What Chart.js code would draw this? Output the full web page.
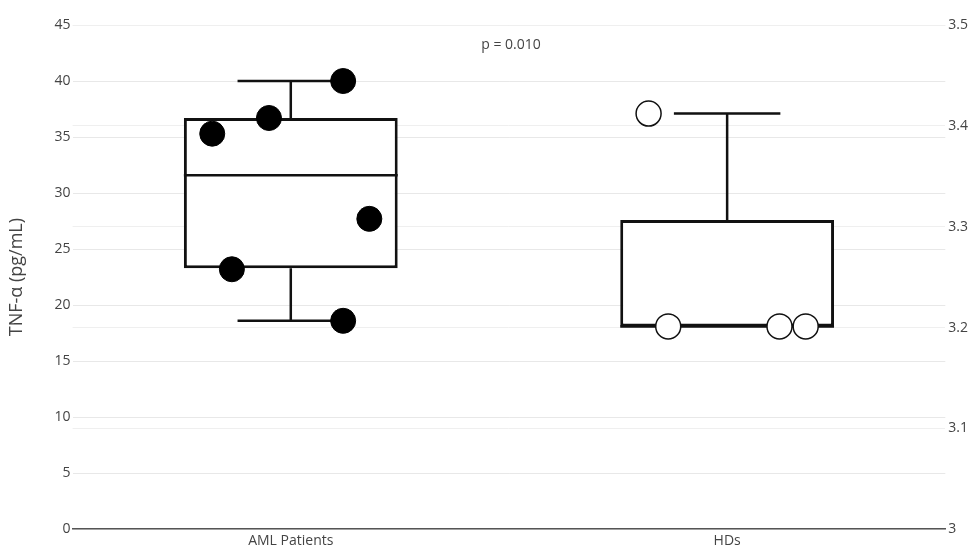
<!DOCTYPE html>
<html>
<head>
<meta charset="utf-8">
<script src="https://cdn.jsdelivr.net/npm/chart.js@4/dist/chart.umd.min.js"></script>
<style>
  body { margin: 0; background: #fff; }
  #wrap { width: 973px; height: 548px; }
</style>
</head>
<body>
<div id="wrap"><canvas id="chart" width="973" height="548"></canvas></div>
<script>
// Chart data
const categories = ['AML Patients', 'HDs'];

// individual measurements (pg/mL) and their horizontal jitter within the category
const amlValues = [40.0, 36.7, 35.3, 27.7, 23.2, 18.6];
const amlJitter = [0.12, -0.05, -0.18, 0.18, -0.135, 0.12];
const hdValues = [37.1, 18.1, 18.1, 18.1];
const hdJitter = [-0.18, -0.135, 0.12, 0.18];

// box plot statistics per category
const boxQ1 = [23.3, 18.1];
const boxMedian = [31.6, 18.1];
const boxQ3 = [36.7, 27.6];
const whiskerLow = [18.6, 18.1];
const whiskerHigh = [40.0, 37.1];

const leftTicks = { min: 0, max: 45, step: 5 };
const rightTicks = { min: 3, max: 3.5, step: 0.1 };
const pValueText = 'p = 0.010';

const axisColor = '#444';
const fontFamily = "'Open Sans', sans-serif";

// Whiskers and median lines drawn right after the boxes
const whiskerPlugin = {
    id: 'whiskers',
    afterDatasetDraw(chart, args) {
        if (args.meta.type !== 'bar') return;
        const ctx = chart.ctx;
        const x = chart.scales.x;
        const y = chart.scales.y;
        const capHalf = (x.getPixelForValue(0.122) - x.getPixelForValue(0));
        ctx.save();
        ctx.strokeStyle = '#111';
        ctx.lineWidth = 2.5;
        categories.forEach((c, i) => {
            const cx = x.getPixelForValue(i);
            const bar = args.meta.data[i];
            const half = bar.width / 2;
            ctx.beginPath();
            // median
            ctx.moveTo(cx - half, y.getPixelForValue(boxMedian[i]));
            ctx.lineTo(cx + half, y.getPixelForValue(boxMedian[i]));
            // upper whisker
            if (whiskerHigh[i] > boxQ3[i]) {
                ctx.moveTo(cx, y.getPixelForValue(boxQ3[i]));
                ctx.lineTo(cx, y.getPixelForValue(whiskerHigh[i]));
                ctx.moveTo(cx - capHalf, y.getPixelForValue(whiskerHigh[i]));
                ctx.lineTo(cx + capHalf, y.getPixelForValue(whiskerHigh[i]));
            }
            // lower whisker
            if (whiskerLow[i] < boxQ1[i]) {
                ctx.moveTo(cx, y.getPixelForValue(boxQ1[i]));
                ctx.lineTo(cx, y.getPixelForValue(whiskerLow[i]));
                ctx.moveTo(cx - capHalf, y.getPixelForValue(whiskerLow[i]));
                ctx.lineTo(cx + capHalf, y.getPixelForValue(whiskerLow[i]));
            }
            ctx.stroke();
        });
        ctx.restore();
    }
};

// p value annotation
const pValuePlugin = {
    id: 'pValue',
    afterDraw(chart) {
        const ctx = chart.ctx;
        const area = chart.chartArea;
        ctx.save();
        ctx.fillStyle = axisColor;
        ctx.font = '14px ' + fontFamily;
        ctx.textAlign = 'center';
        ctx.textBaseline = 'middle';
        ctx.fillText(pValueText, (area.left + area.right) / 2 + 2, chart.scales.y.getPixelForValue(43.2));
        ctx.restore();
    }
};

new Chart(document.getElementById('chart'), {
    type: 'bar',
    data: {
        datasets: [
            {
                type: 'scatter',
                label: categories[0],
                data: amlValues.map((v, i) => ({ x: 0 + amlJitter[i], y: v })),
                pointRadius: 12.5,
                pointBackgroundColor: '#000',
                pointBorderColor: '#000',
                order: 0
            },
            {
                type: 'scatter',
                label: categories[1],
                data: hdValues.map((v, i) => ({ x: 1 + hdJitter[i], y: v })),
                pointRadius: 12.5,
                pointBackgroundColor: '#fff',
                pointBorderColor: '#111',
                pointBorderWidth: 1.5,
                order: 0
            },
            {
                type: 'bar',
                label: 'box',
                data: categories.map((c, i) => ({ x: i, y: [boxQ1[i], boxQ3[i]] })),
                backgroundColor: '#fff',
                borderColor: '#111',
                borderWidth: 3,
                borderSkipped: false,
                categoryPercentage: 1,
                barPercentage: 0.49,
                order: 2
            }
        ]
    },
    options: {
        responsive: false,
        animation: false,
        layout: { padding: { top: 25, right: 2, left: 4, bottom: -4 } },
        plugins: {
            legend: { display: false },
            tooltip: { enabled: false }
        },
        scales: {
            x: {
                type: 'linear',
                min: -0.5,
                max: 1.5,
                offset: false,
                afterBuildTicks: axis => {
                    axis.ticks = categories.map((c, i) => ({ value: i }));
                },
                ticks: {
                    color: axisColor,
                    font: { family: fontFamily, size: 14 },
                    padding: 3,
                    callback: v => categories[v] || ''
                },
                grid: { display: false, drawTicks: false },
                border: { display: true, color: '#555', width: 1.5 }
            },
            y: {
                position: 'left',
                min: leftTicks.min,
                max: leftTicks.max,
                ticks: {
                    stepSize: leftTicks.step,
                    color: axisColor,
                    font: { family: fontFamily, size: 14 },
                    padding: 2
                },
                grid: { color: '#e8e8e8', drawTicks: false },
                border: { display: false },
                title: {
                    display: true,
                    text: 'TNF-α (pg/mL)',
                    color: axisColor,
                    font: { family: fontFamily, size: 18 },
                    padding: { top: 2, bottom: 25 }
                }
            },
            y2: {
                position: 'right',
                min: rightTicks.min,
                max: rightTicks.max,
                ticks: {
                    stepSize: rightTicks.step,
                    color: axisColor,
                    font: { family: fontFamily, size: 14 },
                    padding: 3,
                    callback: v => String(Number(v.toFixed(1)))
                },
                grid: { color: '#efefef', drawTicks: false },
                border: { display: false }
            }
        }
    },
    plugins: [whiskerPlugin, pValuePlugin]
});
</script>
</body>
</html>
